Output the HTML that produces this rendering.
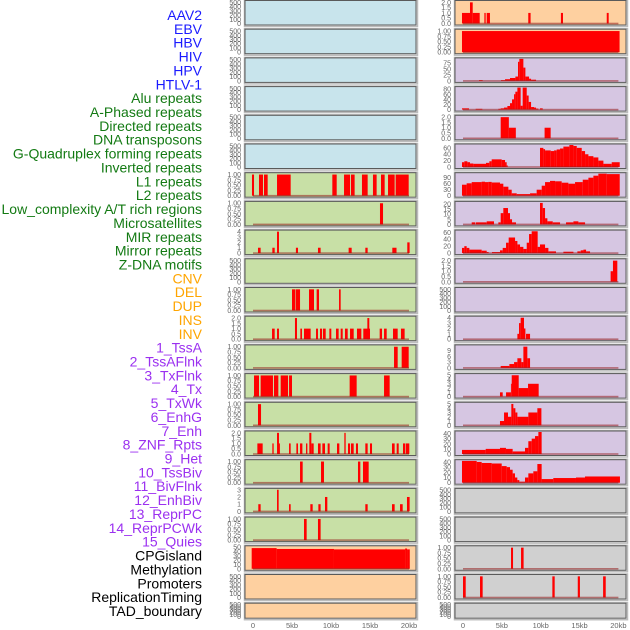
<!DOCTYPE html>
<html><head><meta charset="utf-8"><style>
html,body{margin:0;padding:0;background:#fff;}
svg{display:block;font-family:"Liberation Sans",sans-serif;}
</style></head><body>
<svg id="chart" width="630" height="630" viewBox="0 0 630 630" xmlns="http://www.w3.org/2000/svg"></svg>
<script>
// ---- labels ----
const labelNames = ["AAV2","EBV","HBV","HIV","HPV","HTLV-1","Alu repeats","A-Phased repeats","Directed repeats","DNA transposons","G-Quadruplex forming repeats","Inverted repeats","L1 repeats","L2 repeats","Low_complexity A/T rich regions","Microsatellites","MIR repeats","Mirror repeats","Z-DNA motifs","CNV","DEL","DUP","INS","INV","1_TssA","2_TssAFlnk","3_TxFlnk","4_Tx","5_TxWk","6_EnhG","7_Enh","8_ZNF_Rpts","9_Het","10_TssBiv","11_BivFlnk","12_EnhBiv","13_ReprPC","14_ReprPCWk","15_Quies","CPGisland","Methylation","Promoters","ReplicationTiming","TAD_boundary"];
const labelGroups = [6,13,5,15,5];
const groupColors = ["#1a1aff","#137a13","#ffa500","#9b30f0","#000000"];

// ---- x axis ----
const xTicks = [0,5,10,15,20];
const xTickLabels = ["0","5kb","10kb","15kb","20kb"];

// ---- tick sets ----
const T500 = [0,100,200,300,400,500];
const T1 = [0,0.25,0.5,0.75,1.0];
const T2 = [0,0.5,1.0,1.5,2.0];

// ---- left column data [startKb, endKb, value] ----
const L6 = [[-0.13,0.13,1],[0.77,1.28,1],[1.41,1.88,1],[3.08,4.83,1],[10.17,10.73,1],[11.67,12.44,1],[12.56,13.03,1],[13.97,14.7,1],[15.38,15.85,1],[16.41,16.88,1],[17.31,18.16,1],[18.29,19.96,1]];
const L7 = [[16.28,16.67,1]];
const L8 = [[0.64,0.98,1],[2.48,2.78,1],[3.08,3.33,4],[5.5,5.77,1],[8.33,8.67,1],[12.26,12.65,1],[14.4,14.7,1],[17.86,18.4,1],[19.78,20.08,2]];
const L10 = [[5.0,5.43,1],[5.5,6.03,1],[7.18,7.82,1],[8.16,8.46,1],[11.03,11.24,1]];
const L11 = [[2.44,2.78,1],[3.08,3.33,1],[5.38,5.64,2],[6.07,6.28,1],[6.54,7.39,1],[8.08,8.33,1],[8.59,8.85,1],[8.97,9.32,1],[9.79,10.04,1],[10.64,10.98,1],[11.24,11.5,1],[11.79,12.14,1],[12.44,12.91,1],[13.33,13.89,1],[14.14,15.0,1],[14.66,14.91,2],[16.24,16.54,1],[16.8,17.14,1],[17.95,18.55,1],[18.97,19.44,1]];
const L12 = [[18.08,18.55,1],[19.06,19.96,1]];
const L13 = [[0.13,0.77,1],[0.98,2.56,1],[2.69,3.25,1],[3.55,4.49,1],[4.62,5.0,1],[12.39,13.29,1],[16.8,17.52,1]];
const L14 = [[0.64,1.03,1]];
const L15 = [[0.56,1.24,1],[2.48,2.65,1],[3.08,3.33,2],[3.2,3.45,1],[4.62,4.83,1],[5.56,5.77,1],[6.03,6.33,1],[6.8,6.97,1],[7.22,7.48,2],[7.48,7.78,1],[8.33,8.67,1],[8.89,9.23,1],[9.57,9.83,1],[10.77,11.07,1],[11.71,11.88,2],[12.18,12.44,1],[12.56,12.91,1],[13.2,13.46,1],[14.4,14.7,1],[15.0,15.26,1],[17.82,18.16,1],[18.42,18.68,1],[19.23,19.53,1],[19.61,20.04,1]];
const L16 = [[6.03,6.37,1],[8.72,9.1,1],[13.46,13.76,1],[14.1,14.83,1]];
const L17 = [[0.68,0.98,1],[3.08,3.29,3],[4.62,4.83,1],[7.35,7.65,1],[8.38,8.67,1],[9.23,9.53,2],[14.4,14.7,1],[17.82,18.16,1],[18.85,19.19,1],[19.74,20.08,2]];
const L18 = [[6.54,6.88,1],[8.33,8.67,1]];
const L19 = [[-0.17,3.03,48],[3.03,10.38,46],[10.38,19.5,45],[19.5,19.75,47],[19.75,20.1,45]];

// ---- right column data ----
const R0 = [[-0.13,0.9,1],[0.9,1.25,2],[1.25,2.15,1],[2.75,2.92,1],[3.05,3.47,1],[8.4,8.7,1],[12.6,12.87,1],[18.5,18.75,1]];
const R1 = [[-0.13,20.15,1]];
const R2 = [[2.06,2.53,3],[4.89,5.41,3],[5.41,6.05,7],[6.05,6.74,12],[6.74,7.08,18],[7.08,7.25,79],[7.25,7.77,91],[7.77,8.03,55],[8.03,8.5,18],[8.5,8.76,9],[8.76,9.4,5]];
const R3 = [[-0.13,0.77,5],[1.63,2.49,3],[4.55,4.85,3],[4.85,5.28,5],[5.28,5.71,8],[5.71,6.05,14],[6.05,6.31,25],[6.31,6.57,40],[6.57,6.74,60],[6.74,7.0,70],[7.0,7.42,86],[7.42,7.68,15],[7.68,8.2,86],[8.2,8.45,55],[8.45,8.76,30],[8.76,9.14,10],[9.14,9.4,8],[9.4,9.7,4],[9.91,10.26,5]];
const R4 = [[4.85,5.9,2],[5.9,6.8,1],[10.5,11.28,1]];
const R5 = [[-0.13,0.17,15],[0.17,0.56,18],[0.56,0.9,15],[0.9,1.33,11],[1.33,2.96,10],[2.96,3.39,13],[3.39,3.69,18],[3.69,4.98,24],[4.98,5.41,22],[5.41,5.62,15],[5.62,5.75,5],[9.91,10.34,60],[10.34,10.56,56],[10.56,11.29,52],[11.29,11.72,50],[11.72,12.06,52],[12.06,12.49,55],[12.49,12.92,58],[12.92,13.69,64],[13.69,14.21,69],[14.21,14.64,66],[14.64,15.28,60],[15.28,15.71,50],[15.71,16.14,40],[16.14,16.78,34],[16.78,17.42,30],[17.42,18.07,20],[18.07,19.14,10],[19.14,20.17,15]];
const R6 = [[-0.13,0.47,55],[0.47,1.12,62],[1.12,2.4,68],[2.4,2.83,70],[2.83,3.26,68],[3.26,3.69,69],[3.69,4.76,66],[4.76,5.19,60],[5.19,5.84,45],[5.84,6.27,30],[6.27,6.91,12],[6.91,8.63,8],[8.63,9.48,12],[9.48,10.13,30],[10.13,10.56,50],[10.56,11.2,68],[11.2,11.85,74],[11.85,12.7,72],[12.7,13.56,65],[13.56,14.42,60],[14.42,15.41,68],[15.41,16.14,80],[16.14,16.78,90],[16.78,17.42,100],[17.42,18.5,110],[18.5,20.17,108]];
const R7 = [[1.12,1.55,2],[1.63,3.05,2],[3.05,3.99,3],[4.55,4.85,2],[4.85,5.19,11],[5.19,5.79,16],[5.79,6.05,11],[6.05,6.31,5],[6.31,6.82,2],[9.91,10.26,21],[10.26,10.56,16],[10.56,10.86,6],[10.86,11.55,3],[11.55,12.49,2],[13.26,14.21,2],[14.21,14.85,3],[14.85,15.71,2]];
const R8 = [[-0.13,0.17,15],[0.17,0.47,20],[0.47,0.82,15],[0.82,2.4,10],[2.4,3.05,7],[3.05,3.3,3],[3.73,4.76,3],[4.76,5.11,8],[5.11,5.54,15],[5.54,5.88,30],[5.88,6.7,45],[6.7,7.0,35],[7.0,7.34,25],[7.34,7.77,18],[7.77,8.2,12],[8.2,8.5,30],[8.5,8.84,55],[8.84,9.61,63],[9.61,9.91,18],[9.91,10.56,25],[10.56,10.99,15],[10.99,11.97,5],[12.92,14.21,4],[14.72,15.15,5],[15.15,15.5,8],[15.5,15.84,10],[15.84,16.35,5]];
const R9 = [[19.0,19.3,1],[19.3,19.86,2]];
const R11 = [[7.0,7.21,1],[7.21,7.42,3],[7.42,7.85,4],[7.85,8.03,2],[8.11,8.63,1]];
const R12 = [[4.85,5.97,1],[5.97,6.57,2],[6.57,7.0,3],[7.0,7.51,5],[7.51,7.77,3],[7.77,8.28,11],[8.28,8.63,5]];
const R13 = [[4.76,5.11,1],[5.54,6.17,1],[6.17,6.27,3],[6.27,7.17,5],[7.17,8.37,2],[8.37,9.74,3]];
const R14 = [[4.76,5.28,1],[5.28,5.79,3],[5.79,6.22,2],[6.22,6.48,5],[6.48,6.74,4],[6.74,7.0,3],[7.0,8.41,2],[8.41,9.57,3],[9.57,10.09,4]];
const R15 = [[-0.13,2.92,8],[2.92,4.76,10],[4.76,5.53,12],[5.53,6.39,10],[6.39,7.98,5],[7.98,8.41,12],[8.41,8.84,25],[8.84,9.27,30],[9.27,9.7,35],[9.7,10.12,43]];
const R16 = [[-0.13,1.76,42],[1.76,2.4,40],[2.4,3.69,38],[3.69,4.98,37],[4.98,5.62,32],[5.62,6.05,30],[6.05,6.39,25],[6.39,6.69,18],[6.69,6.99,10],[6.99,7.25,5],[7.25,7.98,2],[7.98,8.41,10],[8.41,9.05,18],[9.05,9.57,22],[9.57,10.12,36],[10.12,11.62,7],[11.62,14.54,9],[14.54,15.7,10],[15.7,20.2,12]];
const R19 = [[6.18,6.44,1],[7.47,7.8,1]];
const R20 = [[0.0,0.35,1],[2.19,2.53,1],[11.5,11.8,1],[14.77,15.05,1],[18.03,18.37,1]];

const colors = {blue:"#c8e4ec",green:"#c8e0a6",orange:"#fed0a0",purple:"#d6c6e2",grey:"#d0d0d0"};
const leftPanels = [
 [[],520,T500,0,"blue"],[[],520,T500,0,"blue"],[[],520,T500,0,"blue"],[[],520,T500,0,"blue"],[[],520,T500,0,"blue"],[[],520,T500,0,"blue"],
 [L6,1.04,T1,2,"green"],[L7,1.04,T1,2,"green"],[L8,4.1,[0,1,2,3,4],0,"green"],[[],520,T500,0,"green"],
 [L10,1.04,T1,2,"green"],[L11,2.08,T2,1,"green"],[L12,1.04,T1,2,"green"],[L13,1.04,T1,2,"green"],[L14,1.04,T1,2,"green"],
 [L15,2.08,T2,1,"green"],[L16,1.04,T1,2,"green"],[L17,3.05,[0,1,2,3],0,"green"],[L18,1.04,T1,2,"green"],
 [L19,51,[0,10,20,30,40,50],0,"orange"],[[],520,T500,0,"orange"],[[],520,T500,0,"orange"]];
const rightPanels = [
 [R0,2.08,T2,1,"orange"],[R1,1.04,T1,2,"orange"],
 [R2,91,[0,25,50,75],0,"purple"],[R3,86,[0,20,40,60,80],0,"purple"],[R4,2.08,T2,1,"purple"],[R5,69,[0,20,40,60],0,"purple"],
 [R6,110,[0,30,60,90],0,"purple"],[R7,21.5,[0,5,10,15,20],0,"purple"],[R8,63.5,[0,20,40,60],0,"purple"],[R9,2.08,T2,1,"purple"],
 [[],520,T500,0,"purple"],[R11,4.1,[0,1,2,3,4],0,"purple"],[R12,11.4,[0,3,6,9],0,"purple"],[R13,5.15,[0,1,2,3,4,5],0,"purple"],
 [R14,5.15,[0,1,2,3,4,5],0,"purple"],[R15,43,[0,10,20,30,40],0,"purple"],[R16,42.4,[0,10,20,30,40],0,"purple"],
 [[],520,T500,0,"grey"],[[],520,T500,0,"grey"],[R19,1.04,T1,2,"grey"],[R20,1.04,T1,2,"grey"],[[],520,T500,0,"grey"]];

const NS="http://www.w3.org/2000/svg";
const svg=document.getElementById("chart");
function mk(tag,attrs,parent){const e=document.createElementNS(NS,tag);for(const k in attrs)e.setAttribute(k,attrs[k]);(parent||svg).appendChild(e);return e;}

let idx=0;
labelGroups.forEach((n,g)=>{for(let i=0;i<n;i++){const t=mk("text",{x:202,y:20+idx*13.86,"text-anchor":"end","font-size":"14",fill:groupColors[g]});


t.textContent=labelNames[idx];idx++;}});

function drawColumn(panels,col){
  const px0 = col===0?245:455, pw=171;
  const x0 = col===0?253:463, kbw = col===0?7.8:7.77;
  const xs = kb=>x0+kb*kbw;
  panels.forEach((p,r)=>{
    const [data,ymax,ticks,dec,fill]=p;
    const top=0.5+r*28.7, h = r===21?15:24.5, bot=top+h;
    const ys = v=>bot-1.5-(v/ymax)*(h-2.5);
    const g=mk("g",{});
    
    
    mk("rect",{x:px0-0.5,y:top-0.5,width:pw+2,height:h+2,fill:"none",stroke:"#bbb","stroke-width":1.5},g);
    mk("rect",{x:px0,y:top,width:pw,height:h,fill:colors[fill],stroke:"#5a5a5a","stroke-width":1},g);
    data.forEach(d=>{
      const b=mk("rect",{x:xs(d[0]),y:ys(d[2]),width:Math.max(0.8,xs(d[1])-xs(d[0])),height:ys(0)-ys(d[2]),fill:"#ff0000"},g);
      
      
    });
    if(data.length) mk("rect",{x:xs(0),y:ys(0)-0.8,width:xs(20)-xs(0),height:1.6,fill:"rgba(150,30,30,0.55)"},g);
    ticks.forEach(v=>{
      const t=mk("text",{x:px0-4,y:ys(v)+2.5,"text-anchor":"end","font-size":"7",fill:"#666"},g);
      
      
      t.textContent=v.toFixed(dec);
    });
  });
  xTicks.forEach((v,i)=>{
    const t=mk("text",{x:xs(v),y:628,"text-anchor":"middle","font-size":"7.5",fill:"#666"});
    
    
    t.textContent=xTickLabels[i];
  });
}
drawColumn(leftPanels,0);
drawColumn(rightPanels,1);
</script>
</body></html>
